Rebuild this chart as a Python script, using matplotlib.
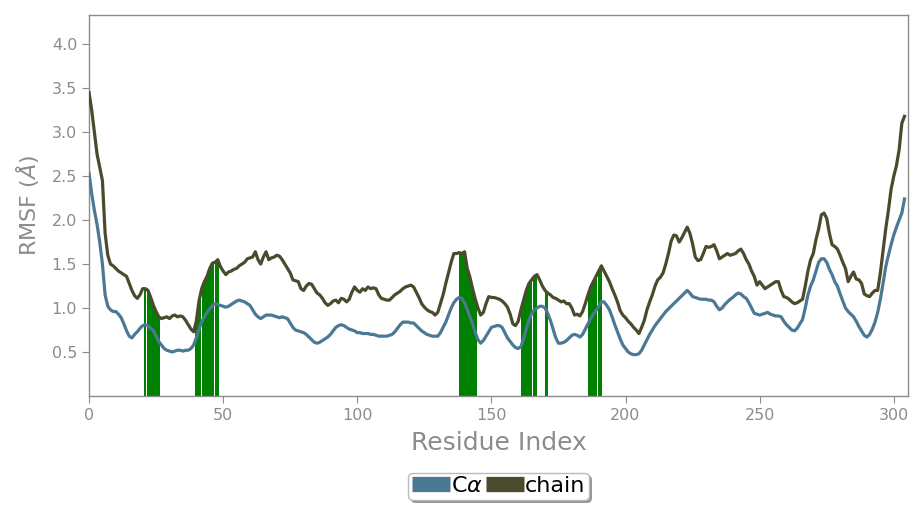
import numpy as np
import matplotlib
matplotlib.use("Agg")
from matplotlib import pyplot as plt
from matplotlib.lines import Line2D
from matplotlib.patches import Rectangle

# RMSF per residue (Angstrom)
ca_rmsf = [
    2.53, 2.30, 2.11, 1.95, 1.75, 1.50, 1.15, 1.02, 0.98, 0.96,
    0.96, 0.93, 0.89, 0.82, 0.74, 0.68, 0.66, 0.70, 0.73, 0.77,
    0.80, 0.81, 0.80, 0.77, 0.74, 0.68, 0.62, 0.58, 0.54, 0.52,
    0.51, 0.50, 0.51, 0.52, 0.52, 0.51, 0.52, 0.52, 0.54, 0.58,
    0.66, 0.76, 0.84, 0.90, 0.95, 0.99, 1.03, 1.05, 1.04, 1.03,
    1.02, 1.01, 1.02, 1.04, 1.06, 1.08, 1.09, 1.08, 1.07, 1.05,
    1.03, 0.98, 0.93, 0.90, 0.88, 0.90, 0.92, 0.92, 0.92, 0.91,
    0.90, 0.89, 0.90, 0.89, 0.88, 0.83, 0.78, 0.75, 0.74, 0.73,
    0.72, 0.70, 0.67, 0.64, 0.61, 0.60, 0.61, 0.63, 0.65, 0.67,
    0.70, 0.74, 0.78, 0.80, 0.81, 0.80, 0.78, 0.76, 0.75, 0.74,
    0.72, 0.72, 0.71, 0.71, 0.71, 0.70, 0.70, 0.69, 0.68, 0.68,
    0.68, 0.68, 0.69, 0.70, 0.73, 0.77, 0.81, 0.84, 0.84, 0.84,
    0.83, 0.83, 0.80, 0.77, 0.74, 0.72, 0.70, 0.69, 0.68, 0.68,
    0.68, 0.72, 0.78, 0.84, 0.92, 1.00, 1.06, 1.10, 1.12, 1.11,
    1.06, 0.98, 0.90, 0.82, 0.72, 0.64, 0.60, 0.63, 0.68, 0.73,
    0.78, 0.79, 0.80, 0.80, 0.78, 0.72, 0.66, 0.62, 0.58, 0.55,
    0.54, 0.56, 0.65, 0.76, 0.86, 0.94, 0.98, 1.00, 1.02, 1.02,
    1.00, 0.94, 0.86, 0.76, 0.66, 0.60, 0.60, 0.61, 0.63, 0.66,
    0.69, 0.70, 0.69, 0.67, 0.70, 0.76, 0.82, 0.88, 0.93, 0.97,
    1.02, 1.07, 1.07, 1.03, 0.98, 0.90, 0.81, 0.73, 0.65, 0.58,
    0.54, 0.50, 0.48, 0.47, 0.47, 0.48, 0.52, 0.58, 0.64, 0.70,
    0.75, 0.80, 0.84, 0.88, 0.92, 0.96, 0.99, 1.02, 1.05, 1.08,
    1.11, 1.14, 1.17, 1.20, 1.17, 1.13, 1.12, 1.11, 1.10, 1.10,
    1.10, 1.09, 1.09, 1.07, 1.02, 0.98, 1.00, 1.04, 1.07, 1.10,
    1.12, 1.15, 1.17, 1.16, 1.13, 1.11, 1.06, 1.00, 0.94, 0.93,
    0.92, 0.93, 0.94, 0.95, 0.93, 0.92, 0.91, 0.91, 0.90, 0.85,
    0.81, 0.78, 0.75, 0.74, 0.77, 0.82, 0.87, 1.00, 1.15, 1.25,
    1.32, 1.42, 1.52, 1.56, 1.56, 1.52, 1.44, 1.38, 1.30, 1.25,
    1.16, 1.08, 1.00, 0.96, 0.93, 0.90, 0.85, 0.79, 0.74, 0.69,
    0.67, 0.70, 0.76, 0.84, 0.95, 1.10, 1.28, 1.47, 1.60, 1.72,
    1.83, 1.92, 2.00, 2.08, 2.24,
]

chain_rmsf = [
    3.45, 3.25, 3.00, 2.75, 2.60, 2.45, 1.85, 1.60, 1.50, 1.48,
    1.45, 1.42, 1.40, 1.38, 1.36, 1.28, 1.20, 1.14, 1.11, 1.15,
    1.22, 1.22, 1.20, 1.12, 1.03, 0.96, 0.90, 0.88, 0.89, 0.90,
    0.88, 0.91, 0.92, 0.90, 0.91, 0.90, 0.86, 0.81, 0.76, 0.73,
    0.85, 1.08, 1.22, 1.30, 1.36, 1.45, 1.51, 1.52, 1.55, 1.47,
    1.42, 1.38, 1.41, 1.42, 1.44, 1.45, 1.48, 1.50, 1.52, 1.56,
    1.57, 1.58, 1.64, 1.55, 1.50, 1.58, 1.64, 1.55, 1.57, 1.58,
    1.60, 1.59, 1.55, 1.50, 1.45, 1.40, 1.32, 1.31, 1.30, 1.22,
    1.20, 1.25, 1.28, 1.27, 1.22, 1.17, 1.15, 1.11, 1.06, 1.03,
    1.05, 1.08, 1.09, 1.06, 1.11, 1.10, 1.07, 1.10, 1.18, 1.24,
    1.20, 1.18, 1.22, 1.20, 1.24, 1.22, 1.23, 1.22, 1.15, 1.11,
    1.10, 1.09, 1.09, 1.12, 1.15, 1.17, 1.19, 1.22, 1.24, 1.25,
    1.26, 1.24, 1.18, 1.12, 1.05, 1.01, 0.98, 0.96, 0.95, 0.92,
    0.95, 1.05, 1.15, 1.28, 1.40, 1.52, 1.62, 1.62, 1.63, 1.62,
    1.64, 1.45, 1.35, 1.22, 1.10, 1.00, 0.92, 0.95, 1.05, 1.13,
    1.12, 1.12, 1.11, 1.10, 1.08, 1.05, 1.01, 0.93, 0.82, 0.80,
    0.85, 0.98, 1.09, 1.20, 1.28, 1.32, 1.36, 1.38, 1.32, 1.25,
    1.20, 1.17, 1.15, 1.12, 1.11, 1.09, 1.07, 1.08, 1.05, 1.05,
    1.00, 0.92, 0.93, 0.91, 0.96, 1.05, 1.15, 1.24, 1.30, 1.36,
    1.42, 1.48, 1.42, 1.36, 1.30, 1.22, 1.15, 1.07, 0.97, 0.92,
    0.89, 0.85, 0.82, 0.78, 0.75, 0.71, 0.78, 0.86, 0.98, 1.07,
    1.15, 1.25, 1.32, 1.35, 1.40, 1.50, 1.62, 1.76, 1.83, 1.82,
    1.75, 1.80, 1.86, 1.92, 1.85, 1.73, 1.58, 1.54, 1.55, 1.62,
    1.70, 1.69, 1.70, 1.72, 1.65, 1.56, 1.58, 1.60, 1.62, 1.60,
    1.61, 1.62, 1.65, 1.67, 1.62, 1.55, 1.50, 1.42, 1.36, 1.26,
    1.30, 1.26, 1.22, 1.24, 1.26, 1.28, 1.30, 1.30, 1.20, 1.13,
    1.12, 1.10, 1.07, 1.05, 1.06, 1.08, 1.10, 1.25, 1.42, 1.55,
    1.62, 1.78, 1.90, 2.06, 2.08, 2.02, 1.85, 1.72, 1.70, 1.67,
    1.60, 1.52, 1.45, 1.30, 1.36, 1.41, 1.33, 1.32, 1.28, 1.16,
    1.14, 1.13, 1.17, 1.20, 1.20, 1.40, 1.65, 1.90, 2.11, 2.35,
    2.50, 2.62, 2.80, 3.10, 3.18,
]

# residue ranges in contact with the ligand
contact_start = [20.4, 21.8, 39.5, 42.2, 46.9, 138.0, 161.0, 165.6, 169.9, 185.9, 189.9]
contact_end = [21.0, 26.1, 41.3, 46.3, 48.1, 144.1, 164.8, 166.6, 170.9, 189.0, 190.8]

residues = np.arange(len(ca_rmsf))
grey = "#8c8c8c"
ca_color = "#4b7894"
chain_color = "#4b4a2c"

fig = plt.figure(figsize=(9.12, 5.07), dpi=100)
ax = fig.add_axes([0.0976, 0.219, 0.8980, 0.751])

for s, e in zip(contact_start, contact_end):
    poly = ax.fill_between(residues, 0, chain_rmsf, color="#008000", lw=0, zorder=1)
    rect = Rectangle((s, 0), e - s, 10, transform=ax.transData)
    poly.set_clip_path(rect)

ax.plot(residues, ca_rmsf, color=ca_color, lw=2.3, zorder=3)
ax.plot(residues, chain_rmsf, color=chain_color, lw=2.3, zorder=4)

ax.set_xlim(0, 305.3)
ax.set_ylim(0, 4.33)
ax.set_xticks([0, 50, 100, 150, 200, 250, 300])
ax.set_yticks([0.5, 1.0, 1.5, 2.0, 2.5, 3.0, 3.5, 4.0])

for sp in ax.spines.values():
    sp.set_color(grey)
    sp.set_linewidth(1.0)
ax.tick_params(colors=grey, labelsize=11.5, length=5, direction="out")

ax.set_xlabel("Residue Index", fontsize=18, color=grey, labelpad=6)
ax.set_ylabel(r"RMSF ($\AA$)", fontsize=16, color=grey, labelpad=8)

handles = [Line2D([], [], color=ca_color, lw=11, solid_capstyle="butt"),
           Line2D([], [], color=chain_color, lw=11, solid_capstyle="butt")]
leg = ax.legend(handles, [r"C$\alpha$", "chain"], loc="center",
                bbox_to_anchor=(0.5, -0.237), ncol=2, fontsize=16,
                frameon=True, fancybox=True, shadow=True,
                handlelength=1.7, handletextpad=0.05, columnspacing=0.15,
                borderpad=0.15, borderaxespad=0)
leg.get_frame().set_edgecolor("#bbbbbb")

fig.savefig("out.png", dpi=100)
